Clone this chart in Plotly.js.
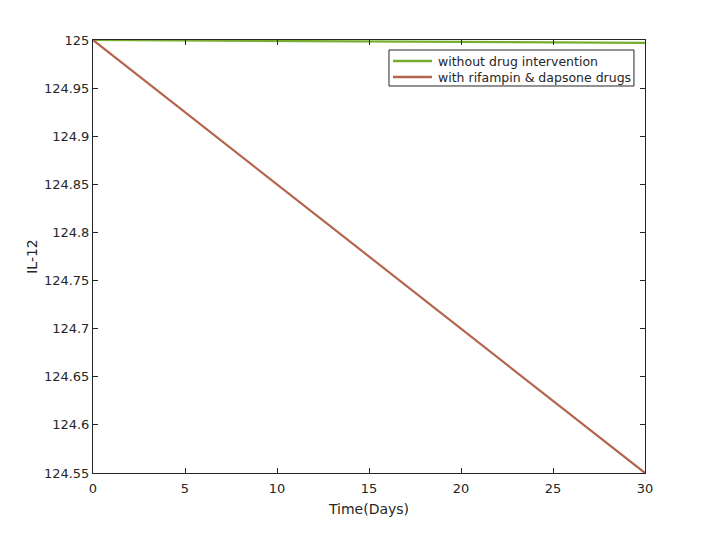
<!DOCTYPE html>
<html><head><meta charset="utf-8">
<script src="https://cdn.plot.ly/plotly-3.0.1.min.js"></script>
<style>body{margin:0;padding:0;background:#fff}</style>
</head><body>
<div id="chart" style="width:712px;height:534px"></div>
<script>
var timeDays = [0, 5, 10, 15, 20, 25, 30];
var withoutDrug = [125, 124.9995, 124.999, 124.9985, 124.998, 124.9975, 124.997];
var withDrugs = [125, 124.925, 124.85, 124.775, 124.7, 124.625, 124.55];
var seriesNames = ['without drug intervention', 'with rifampin & dapsone drugs'];
var seriesColors = ['#77ac30', '#b5654d'];
var xTicks = [0, 5, 10, 15, 20, 25, 30];
var yTicks = [124.55, 124.6, 124.65, 124.7, 124.75, 124.8, 124.85, 124.9, 124.95, 125];
var yTickText = ['124.55','124.6','124.65','124.7','124.75','124.8','124.85','124.9','124.95','125'];

var traces = [
  {x: timeDays, y: withoutDrug, mode: 'lines', name: seriesNames[0],
   line: {color: seriesColors[0], width: 2.2}, cliponaxis: false},
  {x: timeDays, y: withDrugs, mode: 'lines', name: seriesNames[1],
   line: {color: seriesColors[1], width: 2.2}, cliponaxis: false}
];
var axisCommon = {
  showgrid: false, zeroline: false, showline: true, linecolor: '#262626', linewidth: 1,
  mirror: 'ticks', ticks: 'inside', ticklen: 5, tickcolor: '#262626',
  tickfont: {family: 'DejaVu Sans', size: 13, color: '#262626'}
};
// custom legend (box, sample lines, labels) in paper coordinates
var legX0 = 0.5362, legX1 = 0.980, legY0 = 0.8938, legY1 = 0.9769;
var rowY = [0.9515, 0.9145];
var shapes = [{type: 'rect', xref: 'paper', yref: 'paper', x0: legX0, x1: legX1, y0: legY0, y1: legY1,
  line: {color: '#262626', width: 1}, fillcolor: '#fff'}];
var annotations = [];
for (var i = 0; i < seriesNames.length; i++) {
  shapes.push({type: 'line', xref: 'paper', yref: 'paper', x0: 0.5435, x1: 0.6141, y0: rowY[i], y1: rowY[i],
    line: {color: seriesColors[i], width: 2.5}});
  annotations.push({xref: 'paper', yref: 'paper', x: 0.6214, y: rowY[i], xanchor: 'left', yanchor: 'middle',
    text: seriesNames[i], showarrow: false,
    font: {family: 'DejaVu Sans', size: 12.5, color: '#262626'}});
}
var layout = {
  width: 712, height: 534,
  margin: {l: 93, r: 67, t: 40, b: 61},
  paper_bgcolor: '#fff', plot_bgcolor: '#fff',
  showlegend: false,
  shapes: shapes, annotations: annotations,
  xaxis: Object.assign({}, axisCommon, {
    range: [0, 30], tickvals: xTicks, ticklabelstandoff: 3,
    title: {text: 'Time(Days)', font: {family: 'DejaVu Sans', size: 14, color: '#262626'}, standoff: 9}
  }),
  yaxis: Object.assign({}, axisCommon, {
    range: [124.55, 125], tickvals: yTicks, ticktext: yTickText,
    title: {text: 'IL-12', font: {family: 'DejaVu Sans', size: 14, color: '#262626'}, standoff: 3}
  })
};
Plotly.newPlot('chart', traces, layout, {displayModeBar: false, staticPlot: true});
</script>
</body></html>
